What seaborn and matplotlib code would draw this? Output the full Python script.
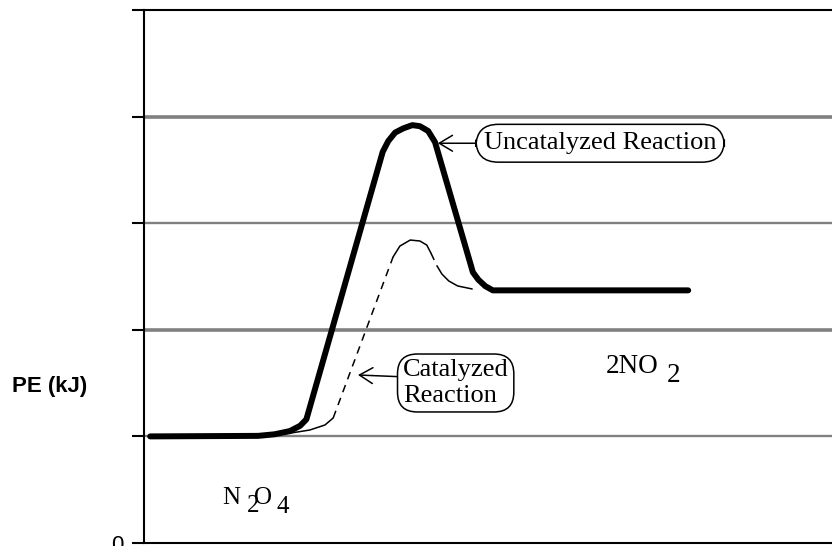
import matplotlib
matplotlib.use("Agg")
import matplotlib.pyplot as plt
import pandas as pd
import seaborn as sns

# ---- data (reaction progress 0-100, potential energy in kJ) ----
uncat_x = [0.9, 16.6, 19.0, 21.2, 22.7, 23.6, 34.7, 35.5, 36.5, 37.7, 39.0,
           40.1, 41.3, 42.3, 47.4, 47.8, 48.6, 49.6, 50.7, 79.1]
uncat_pe = [100, 100.5, 102, 105, 110, 116, 367, 377, 385, 389, 392,
            391, 386.5, 376, 263, 254, 247, 241, 237, 237]

cat_x = [16.6, 21.2, 24.1, 26.3, 27.5, 36.2, 37.2, 38.7, 40.1, 41.1, 41.7,
         42.6, 43.3, 44.3, 45.6, 47.7]
cat_pe = [100.4, 103, 106, 110.7, 117.3, 268.3, 278.6, 284.2, 283.3, 279.5, 272,
          259.8, 252.3, 245.8, 241.1, 238.3]
# style of the piece that starts at each point
cat_kind = ["solid", "solid", "solid", "solid", "dashed", "solid", "solid", "solid",
            "solid", "solid", "dashed", "solid", "solid", "solid", "solid", "solid"]

y_ticks = [0, 100, 200, 300, 400, 500]
y_tick_labels = ["0", "", "", "", "", ""]

# build segment table for catalyzed path
rows = []
seg = 0
for i in range(len(cat_x) - 1):
    if i > 0 and cat_kind[i] != cat_kind[i - 1]:
        seg += 1
    rows.append((seg, cat_kind[i], cat_x[i], cat_pe[i], i))
    rows.append((seg, cat_kind[i], cat_x[i + 1], cat_pe[i + 1], i + 0.5))
cat_df = pd.DataFrame(rows, columns=["seg", "kind", "x", "pe", "order"]).drop_duplicates(
    subset=["seg", "x", "pe"]).sort_values(["seg", "order"])

sns.set_style("white")
plt.rcParams["lines.solid_capstyle"] = "round"
plt.rcParams["text.color"] = "black"
plt.rcParams["axes.labelcolor"] = "black"
plt.rcParams["ytick.color"] = "black"
plt.rcParams["xtick.color"] = "black"

fig = plt.figure(figsize=(8.32, 5.46), dpi=100)
ax = fig.add_axes([144 / 832, 3 / 546, 688 / 832, 533 / 546])

sns.lineplot(x=uncat_x, y=uncat_pe, color="black", lw=4.3, sort=False,
             estimator=None, ax=ax, zorder=3)
sns.lineplot(data=cat_df, x="x", y="pe", units="seg", style="kind",
             dashes={"solid": "", "dashed": (5, 4)}, estimator=None, sort=False,
             color="black", lw=1.1, legend=False, ax=ax, zorder=3)

ax.set_xlim(0, 100)
ax.set_ylim(0, 500)
ax.set_xticks([])
ax.set_yticks(y_ticks)
ax.set_yticklabels(y_tick_labels, family="Liberation Sans", fontsize=16,
                   color="black")
ax.set_xlabel("")
ax.tick_params(axis="y", length=8.6, width=1.5, direction="out", pad=6,
               colors="black", left=True)
for side in ["left", "top", "bottom"]:
    ax.spines[side].set_visible(True)
    ax.spines[side].set_color("black")
    ax.spines[side].set_linewidth(1.5)
ax.spines["right"].set_visible(False)

ax.set_axisbelow(True)
ax.yaxis.grid(True, color="#808080")
for val, gl in zip(y_ticks, ax.get_ygridlines()):
    if val in (0, 500):
        gl.set_visible(False)
    elif val in (200, 400):
        gl.set_linewidth(2.6)
    else:
        gl.set_linewidth(1.7)

ax.set_ylabel("PE (kJ)", rotation=0, fontsize=16, fontweight="bold",
              family="Liberation Sans", ha="center", va="center", color="black")
ax.yaxis.set_label_coords(-0.1366, 0.2927)

serif = "Liberation Serif"
ax.annotate("Uncatalyzed Reaction", xy=(42.7, 375), xytext=(66.3, 375),
            ha="center", va="center", fontsize=19, family=serif, color="black",
            bbox=dict(boxstyle="round,pad=0.3,rounding_size=0.85", fc="white",
                      ec="black", lw=1.1),
            arrowprops=dict(arrowstyle="->,head_length=0.5,head_width=0.3",
                            color="black", lw=1.1, relpos=(0, 0.5),
                            shrinkA=0, shrinkB=0))
ax.annotate("Catalyzed\nReaction", xy=(31.1, 157.6), xytext=(45.3, 150.1),
            ha="center", va="center", multialignment="left", linespacing=1.2,
            fontsize=19, family=serif, color="black",
            bbox=dict(boxstyle="round,pad=0.2,rounding_size=0.75", fc="white",
                      ec="black", lw=1.1),
            arrowprops=dict(arrowstyle="->,head_length=0.5,head_width=0.3",
                            color="black", lw=1.1, relpos=(0, 0.63),
                            shrinkA=0, shrinkB=0))

# formula labels
ax.text(11.3, 36.6, "N", fontsize=18, family=serif, va="baseline", ha="left")
ax.text(15.0, 29.1, "2", fontsize=18, family=serif, va="baseline", ha="left")
ax.text(16.0, 36.6, "O", fontsize=18, family=serif, va="baseline", ha="left")
ax.text(19.3, 28.1, "4", fontsize=18, family=serif, va="baseline", ha="left")
ax.text(67.1, 159.5, "2NO", fontsize=19.5, family=serif, va="baseline", ha="left")
ax.text(76.0, 151.0, "2", fontsize=19.5, family=serif, va="baseline", ha="left")

fig.savefig("out.png", dpi=100)
